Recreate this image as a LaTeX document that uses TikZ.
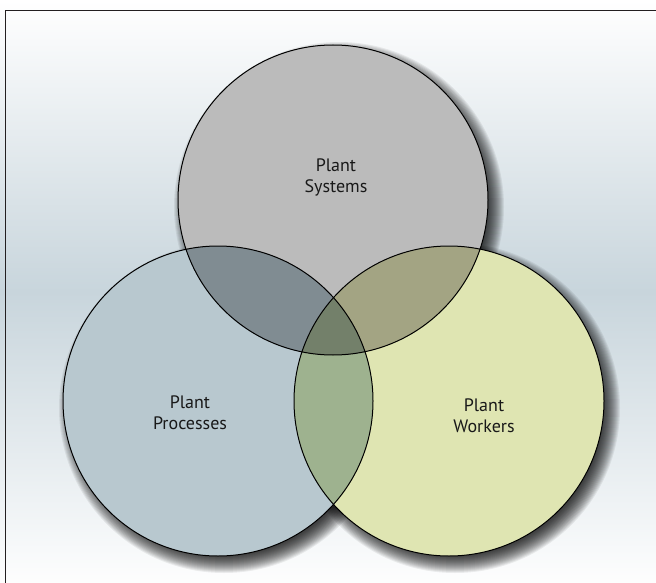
\documentclass[tikz,border=0pt]{standalone}
\usepackage{fontspec}
\setmainfont{PT Sans}
\definecolor{bgmid}{RGB}{200,213,220}
\definecolor{framecol}{RGB}{35,31,32}
\definecolor{cS}{RGB}{187,187,187}
\definecolor{cP}{RGB}{184,200,207}
\definecolor{cW}{RGB}{223,229,178}
\definecolor{cSP}{RGB}{128,140,146}
\definecolor{cSW}{RGB}{163,164,131}
\definecolor{cPW}{RGB}{158,178,143}
\definecolor{cSPW}{RGB}{115,128,106}
\tikzset{
  lbl/.style={align=center, text=black!90, font=\fontsize{18}{21}\selectfont, inner sep=0pt},
  ring/.style={line width=1pt, draw=black},
  shadowring/.style={fill=black, opacity=0.065}
}
\begin{document}
\begin{tikzpicture}[x=1pt,y=-1pt]
\useasboundingbox (0,0) rectangle (656,583);
\shade[top color=white, bottom color=white!97!bgmid, middle color=bgmid] (0,0) rectangle (656,583);
\draw[line width=1.4pt, color=framecol] (5.5,600) -- (5.5,10.5) -- (670,10.5);
\coordinate (S) at (333,200);
\coordinate (P) at (218,401);
\coordinate (W) at (449,401);
% shadows
\foreach \c in {S,P,W}{
  \foreach \k in {0,...,17}{
    \fill[shadowring] ([shift={(6,7)}]\c) circle[radius={(148+\k)*1pt}];
  }
}
% fills
\fill[cS] (S) circle[radius=155pt];
\fill[cP] (P) circle[radius=155pt];
\fill[cW] (W) circle[radius=155pt];
\begin{scope}
  \clip (S) circle[radius=155pt];
  \fill[cSP] (P) circle[radius=155pt];
  \fill[cSW] (W) circle[radius=155pt];
\end{scope}
\begin{scope}
  \clip (P) circle[radius=155pt];
  \fill[cPW] (W) circle[radius=155pt];
\end{scope}
\begin{scope}
  \clip (S) circle[radius=155pt];
  \clip (P) circle[radius=155pt];
  \fill[cSPW] (W) circle[radius=155pt];
\end{scope}
% outlines
\draw[ring] (S) circle[radius=155pt];
\draw[ring] (P) circle[radius=155pt];
\draw[ring] (W) circle[radius=155pt];
% labels
\node[lbl] (ts) at (336,177.5) {Plant\\Systems};
\node[lbl] (tp) at (190,412.5) {Plant\\Processes};
\node[lbl] (tw) at (484,416) {Plant\\Workers};
\end{tikzpicture}
\end{document}
